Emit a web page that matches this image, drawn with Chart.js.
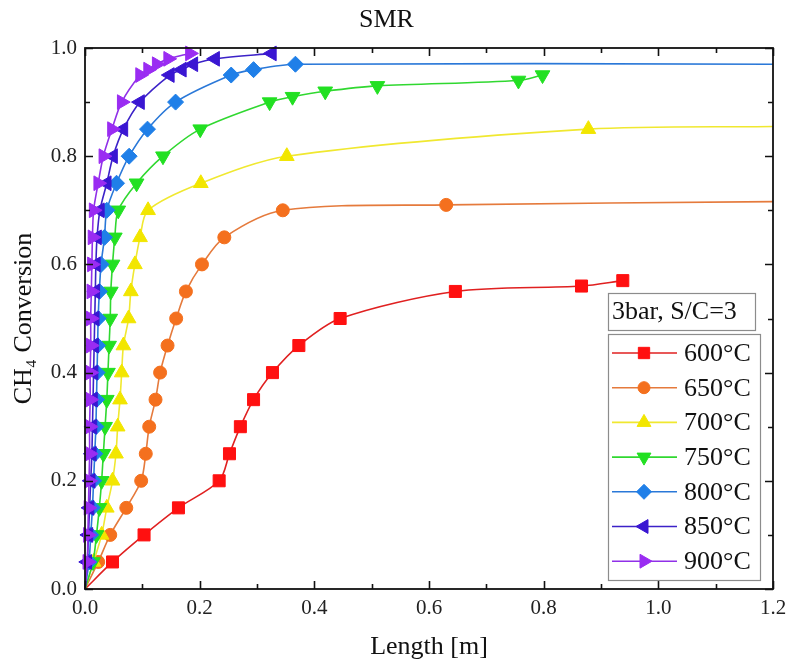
<!DOCTYPE html>
<html>
<head>
<meta charset="utf-8">
<script src="https://cdn.jsdelivr.net/npm/chart.js@4/dist/chart.umd.min.js"></script>
<style>
  html, body { margin: 0; padding: 0; background: #fff; }
  #wrap { width: 800px; height: 671px; }
</style>
</head>
<body>
<div id="wrap"><canvas id="c" width="800" height="671"></canvas></div>
<script>
// ---- data ----
const temps = ['600°C', '650°C', '700°C', '750°C', '800°C', '850°C', '900°C'];
const xTickLabels = ['0.0', '0.2', '0.4', '0.6', '0.8', '1.0', '1.2'];
const yTickLabels = ['0.0', '0.2', '0.4', '0.6', '0.8', '1.0'];

const x600 = [0.048, 0.103, 0.163, 0.234, 0.252, 0.271, 0.294, 0.327, 0.373, 0.445, 0.646, 0.866, 0.938];
const y600 = [0.05, 0.10, 0.15, 0.20, 0.25, 0.30, 0.35, 0.40, 0.45, 0.50, 0.55, 0.56, 0.57];

const x650 = [0.023, 0.044, 0.072, 0.098, 0.106, 0.112, 0.123, 0.131, 0.144, 0.159, 0.176, 0.204, 0.243, 0.345, 0.630];
const y650 = [0.05, 0.10, 0.15, 0.20, 0.25, 0.30, 0.35, 0.40, 0.45, 0.50, 0.55, 0.60, 0.65, 0.70, 0.71];

const x700 = [0.015, 0.029, 0.038, 0.048, 0.054, 0.057, 0.061, 0.064, 0.067, 0.076, 0.080, 0.087, 0.096, 0.110, 0.202, 0.352, 0.878];
const y700 = [0.05, 0.10, 0.15, 0.20, 0.25, 0.30, 0.35, 0.40, 0.45, 0.50, 0.55, 0.60, 0.65, 0.70, 0.75, 0.80, 0.85];

const x750 = [0.014, 0.020, 0.025, 0.029, 0.032, 0.035, 0.038, 0.040, 0.042, 0.044, 0.045, 0.048, 0.052, 0.058, 0.090, 0.136, 0.201, 0.322, 0.362, 0.419, 0.510, 0.756, 0.798];
const y750 = [0.05, 0.10, 0.15, 0.20, 0.25, 0.30, 0.35, 0.40, 0.45, 0.50, 0.55, 0.60, 0.65, 0.70, 0.75, 0.80, 0.85, 0.90, 0.91, 0.92, 0.93, 0.94, 0.95];

const x800 = [0.007, 0.010, 0.013, 0.015, 0.017, 0.019, 0.020, 0.021, 0.022, 0.023, 0.025, 0.028, 0.034, 0.038, 0.055, 0.077, 0.109, 0.158, 0.255, 0.294, 0.367];
const y800 = [0.05, 0.10, 0.15, 0.20, 0.25, 0.30, 0.35, 0.40, 0.45, 0.50, 0.55, 0.60, 0.65, 0.70, 0.75, 0.80, 0.85, 0.90, 0.95, 0.96, 0.97];

const x850 = [0.004, 0.006, 0.008, 0.010, 0.012, 0.013, 0.014, 0.015, 0.016, 0.017, 0.018, 0.019, 0.021, 0.026, 0.038, 0.049, 0.067, 0.096, 0.148, 0.169, 0.189, 0.227, 0.326];
const y850 = [0.05, 0.10, 0.15, 0.20, 0.25, 0.30, 0.35, 0.40, 0.45, 0.50, 0.55, 0.60, 0.65, 0.70, 0.75, 0.80, 0.85, 0.90, 0.95, 0.96, 0.97, 0.98, 0.99];

const x900 = [0.004, 0.005, 0.006, 0.007, 0.008, 0.008, 0.009, 0.009, 0.010, 0.010, 0.011, 0.012, 0.013, 0.015, 0.023, 0.032, 0.047, 0.064, 0.096, 0.110, 0.125, 0.145, 0.183];
const y900 = [0.05, 0.10, 0.15, 0.20, 0.25, 0.30, 0.35, 0.40, 0.45, 0.50, 0.55, 0.60, 0.65, 0.70, 0.75, 0.80, 0.85, 0.90, 0.95, 0.96, 0.97, 0.98, 0.99];

// model line continues past the last marker (line-only points)
const tail650 = [[1.2, 0.716]];
const tail700 = [[1.2, 0.855]];
const tail800 = [[1.2, 0.970]];
const lineStart = [0, 0];

// ---- styling ----
const colors = ['#ff1010', '#f4701e', '#f2e600', '#22e022', '#1f7fe8', '#3a16d2', '#9a2cf2'];
const lineColors = ['#e02020', '#e57a3c', '#f0e830', '#30d830', '#2a78d8', '#3c22c8', '#9030e8'];
const styles = ['rect', 'circle', 'triangle', 'triangle', 'rectRot', 'triangle', 'triangle'];
const rotations = [0, 0, 0, 180, 0, 270, 90];
const radii = [8.5, 6.5, 8.5, 8.5, 8, 8.5, 8.5];
const serif = '"Liberation Serif", "Times New Roman", "DejaVu Serif", serif';

const xs = [x600, x650, x700, x750, x800, x850, x900];
const ys = [y600, y650, y700, y750, y800, y850, y900];
const tails = [[], tail650, tail700, [], tail800, [], []];

const datasets = temps.map((t, i) => {
  const pts = [{x: lineStart[0], y: lineStart[1]}];
  xs[i].forEach((x, k) => pts.push({x: x, y: ys[i][k]}));
  tails[i].forEach(p => pts.push({x: p[0], y: p[1]}));
  const nMark = xs[i].length;
  return {
    label: t,
    data: pts,
    showLine: true,
    borderColor: lineColors[i],
    borderWidth: 1.6,
    backgroundColor: colors[i],
    pointBackgroundColor: colors[i],
    pointBorderColor: colors[i],
    pointBorderWidth: 1,
    pointStyle: styles[i],
    pointRotation: rotations[i],
    pointRadius: ctx => (ctx.dataIndex >= 1 && ctx.dataIndex <= nMark) ? radii[i] : 0,
    pointHoverRadius: ctx => (ctx.dataIndex >= 1 && ctx.dataIndex <= nMark) ? radii[i] : 0,
    tension: 0.3,
    order: 7 - i,
    clip: false
  };
});

// inward ticks on all four sides and a black frame
const framePlugin = {
  id: 'frame',
  afterDatasetsDraw(chart) {
    const {ctx, chartArea: a, scales} = chart;
    ctx.save();
    ctx.strokeStyle = '#111';
    ctx.lineWidth = 1.6;
    for (let k = 0; k <= 12; k++) {
      const v = k / 10;
      const px = Math.round(scales.x.getPixelForValue(v)) + 0.5;
      const len = (k % 2 === 0) ? 8 : 5;
      ctx.beginPath();
      ctx.moveTo(px, a.bottom); ctx.lineTo(px, a.bottom - len);
      ctx.moveTo(px, a.top); ctx.lineTo(px, a.top + len);
      ctx.stroke();
    }
    for (let k = 0; k <= 10; k++) {
      const v = k / 10;
      const py = Math.round(scales.y.getPixelForValue(v)) + 0.5;
      const len = (k % 2 === 0) ? 8 : 5;
      ctx.beginPath();
      ctx.moveTo(a.left, py); ctx.lineTo(a.left + len, py);
      ctx.moveTo(a.right, py); ctx.lineTo(a.right - len, py);
      ctx.stroke();
    }
    ctx.lineWidth = 1.8;
    ctx.strokeRect(a.left, a.top, a.right - a.left, a.bottom - a.top);
    ctx.restore();
  }
};

// boxed legend with a header box, like the reference
const legendPlugin = {
  id: 'boxLegend',
  afterDraw(chart) {
    const {ctx, chartArea: a} = chart;
    const L = a.right - 165, T = a.bottom - 296;
    ctx.save();
    ctx.lineWidth = 1.2;
    ctx.strokeStyle = '#8c8c8c';
    ctx.fillStyle = '#fff';
    // header
    ctx.fillRect(L, T, 147, 37);
    ctx.strokeRect(L + 0.5, T + 0.5, 147, 37);
    ctx.fillStyle = '#111';
    ctx.font = '26px ' + serif;
    ctx.textBaseline = 'middle';
    ctx.textAlign = 'left';
    ctx.fillText('3bar, S/C=3', L + 4, T + 19);
    // entries
    const T2 = T + 41;
    ctx.fillStyle = '#fff';
    ctx.fillRect(L, T2, 152, 246);
    ctx.strokeRect(L + 0.5, T2 + 0.5, 152, 246);
    chart.data.datasets.forEach((ds, i) => {
      const cy = T2 + 19 + i * 34.7;
      ctx.strokeStyle = ds.borderColor;
      ctx.lineWidth = 1.6;
      ctx.beginPath();
      ctx.moveTo(L + 4, cy); ctx.lineTo(L + 69, cy);
      ctx.stroke();
      ctx.fillStyle = colors[i];
      ctx.strokeStyle = colors[i];
      ctx.lineWidth = 1;
      Chart.helpers.drawPoint(ctx, {pointStyle: styles[i], rotation: rotations[i], radius: radii[i] - 0.5, borderWidth: 1}, L + 36, cy);
      ctx.fillStyle = '#111';
      ctx.font = '26px ' + serif;
      ctx.fillText(ds.label, L + 76, cy + 1);
    });
    ctx.restore();
  }
};

new Chart(document.getElementById('c'), {
  type: 'scatter',
  data: {datasets},
  options: {
    responsive: false,
    animation: false,
    events: [],
    layout: {padding: {left: 0, right: 27, top: 0, bottom: 0}},
    plugins: {
      legend: {display: false},
      tooltip: {enabled: false},
      title: {
        display: true,
        text: 'SMR',
        color: '#111',
        font: {family: serif, size: 26, weight: 'normal', lineHeight: 1.2},
        padding: {top: 5, bottom: 11.8}
      }
    },
    scales: {
      x: {
        type: 'linear',
        min: 0, max: 1.2,
        afterFit: s => { s.height = 82; },
        grid: {display: false, drawTicks: false},
        border: {display: false},
        ticks: {
          stepSize: 0.2, autoSkip: false, maxRotation: 0, padding: 7,
          color: '#222',
          font: {family: serif, size: 21},
          callback: (v) => xTickLabels[Math.round(v / 0.2)]
        },
        title: {
          display: true, text: 'Length [m]', color: '#111',
          font: {family: serif, size: 26, lineHeight: 1.2},
          padding: {top: 0, bottom: 8}
        }
      },
      y: {
        type: 'linear',
        min: 0, max: 1.0,
        afterFit: s => { s.width = 85; },
        grid: {display: false, drawTicks: false},
        border: {display: false},
        ticks: {
          stepSize: 0.2, autoSkip: false, padding: 8,
          color: '#222',
          font: {family: serif, size: 21},
          callback: (v) => yTickLabels[Math.round(v / 0.2)]
        },
        title: {
          display: true, text: 'CH₄ Conversion', color: '#111',
          font: {family: serif, size: 26, lineHeight: 1.2},
          padding: {top: 9, bottom: 0}
        }
      }
    }
  },
  plugins: [framePlugin, legendPlugin]
});
</script>
</body>
</html>
